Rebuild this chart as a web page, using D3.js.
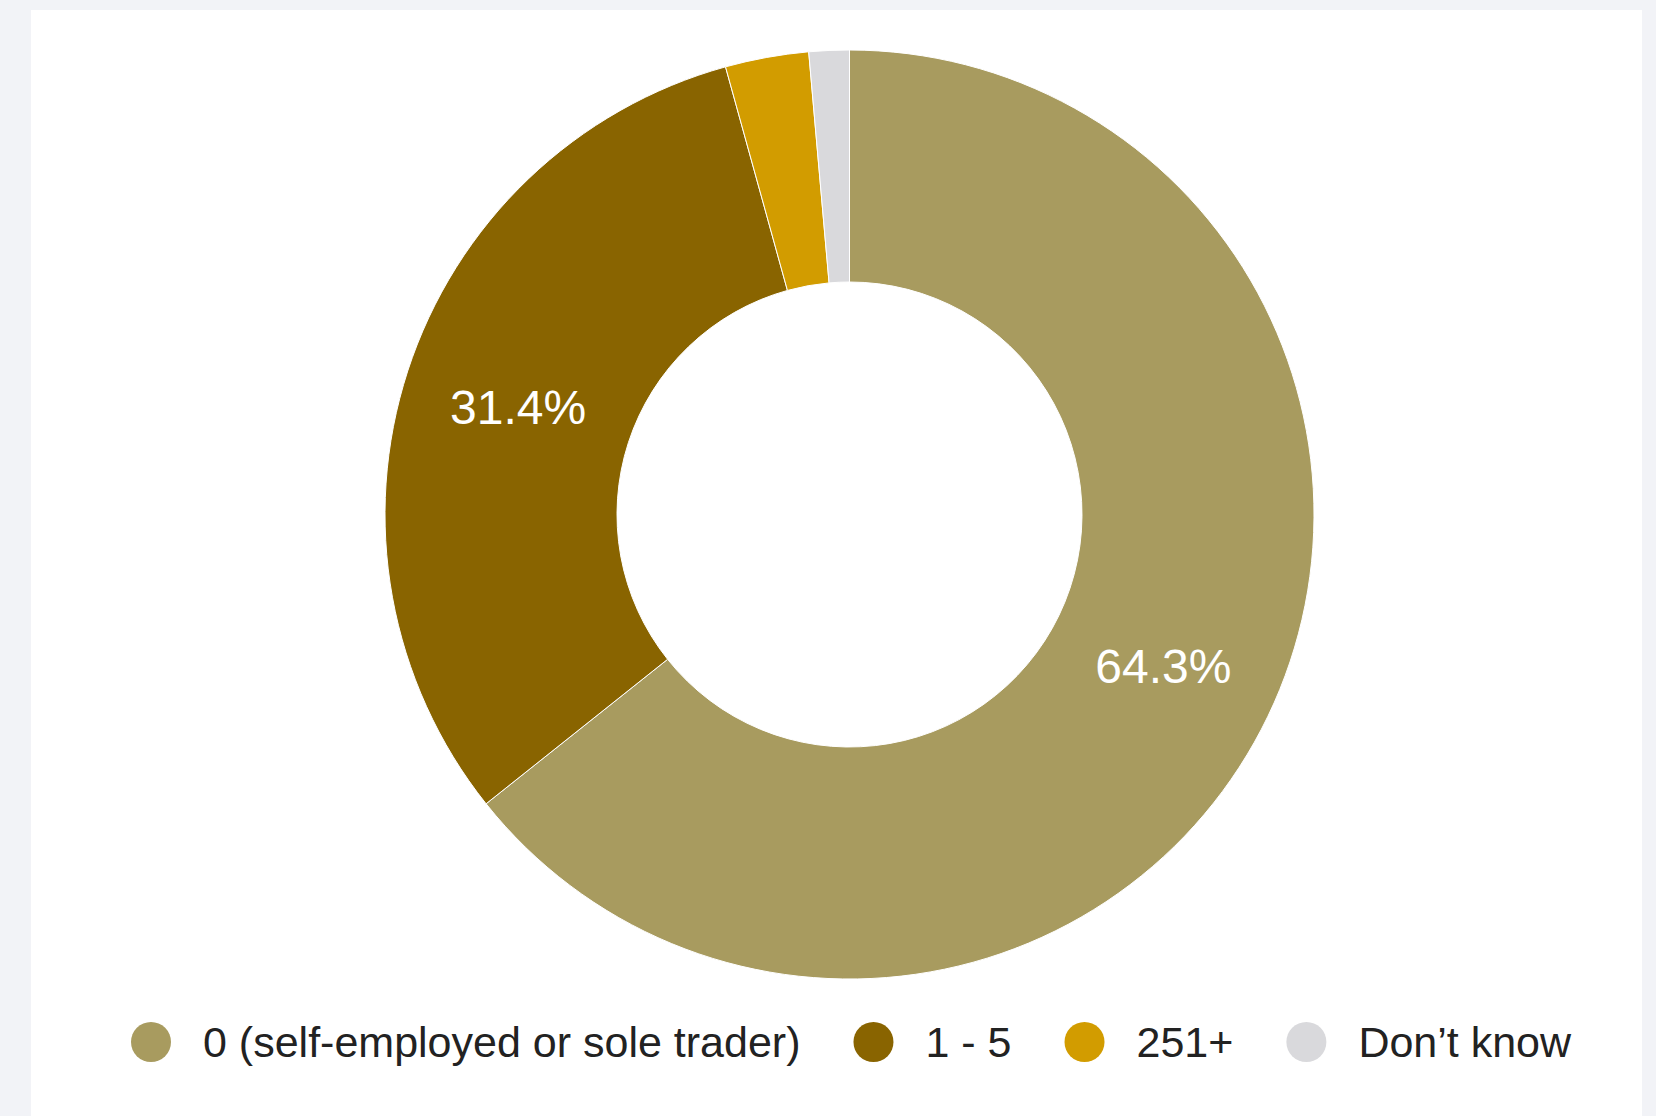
<!DOCTYPE html>
<html>
<head>
<meta charset="utf-8">
<script src="https://cdn.jsdelivr.net/npm/d3@7"></script>
<style>
  html, body { margin: 0; padding: 0; background: #f2f3f7; }
  svg { display: block; }
  text { font-family: "Liberation Sans", Arial, sans-serif; }
</style>
</head>
<body>
<svg id="chart" width="1656" height="1116"></svg>
<script>
// Number of employees — share of respondents (%)
const categories = ["0 (self-employed or sole trader)", "1 - 5", "251+", "Don\u2019t know"];
const shares = [64.3, 31.4, 2.9, 1.4];
const sliceLabels = ["64.3%", "31.4%", "", ""];
const palette = ["#a89b5f", "#896400", "#d29c00", "#d9d9dc"];

const W = 1656, H = 1116;
const svg = d3.select("#chart");

// white card on the grey page
svg.append("rect").attr("x", 31).attr("y", 10).attr("width", 1611).attr("height", H - 10).attr("fill", "#ffffff");

const cx = 849.5, cy = 514.5, rOuter = 464.5, rInner = 232.5;

const color = d3.scaleOrdinal().domain(categories).range(palette);

const pie = d3.pie().sort(null).value(d => d.value);
const arcs = pie(categories.map((c, i) => ({ cat: c, value: shares[i], label: sliceLabels[i] })));

const arc = d3.arc().innerRadius(rInner).outerRadius(rOuter);

const g = svg.append("g").attr("transform", `translate(${cx},${cy})`);

g.selectAll("path.slice")
  .data(arcs)
  .join("path")
  .attr("class", "slice")
  .attr("d", arc)
  .attr("fill", d => color(d.data.cat))
  .attr("stroke", "#ffffff")
  .attr("stroke-width", 1);

g.selectAll("text.pct")
  .data(arcs.filter(d => d.data.label))
  .join("text")
  .attr("class", "pct")
  .attr("transform", d => `translate(${arc.centroid(d)})`)
  .attr("text-anchor", "middle")
  .attr("dy", "0.36em")
  .attr("font-size", 48)
  .attr("fill", "#ffffff")
  .text(d => d.data.label);

// legend laid out left to right along the bottom
const legend = svg.append("g");
let x = 151;
const ly = 1042;
categories.forEach((c, i) => {
  legend.append("circle").attr("cx", x).attr("cy", ly).attr("r", 20).attr("fill", color(c));
  const t = legend.append("text")
    .attr("x", x + 52).attr("y", ly).attr("dy", "0.36em")
    .attr("font-size", 43).attr("fill", "#222222")
    .text(c);
  x = x + 52 + t.node().getComputedTextLength() + 73;
});
</script>
</body>
</html>
